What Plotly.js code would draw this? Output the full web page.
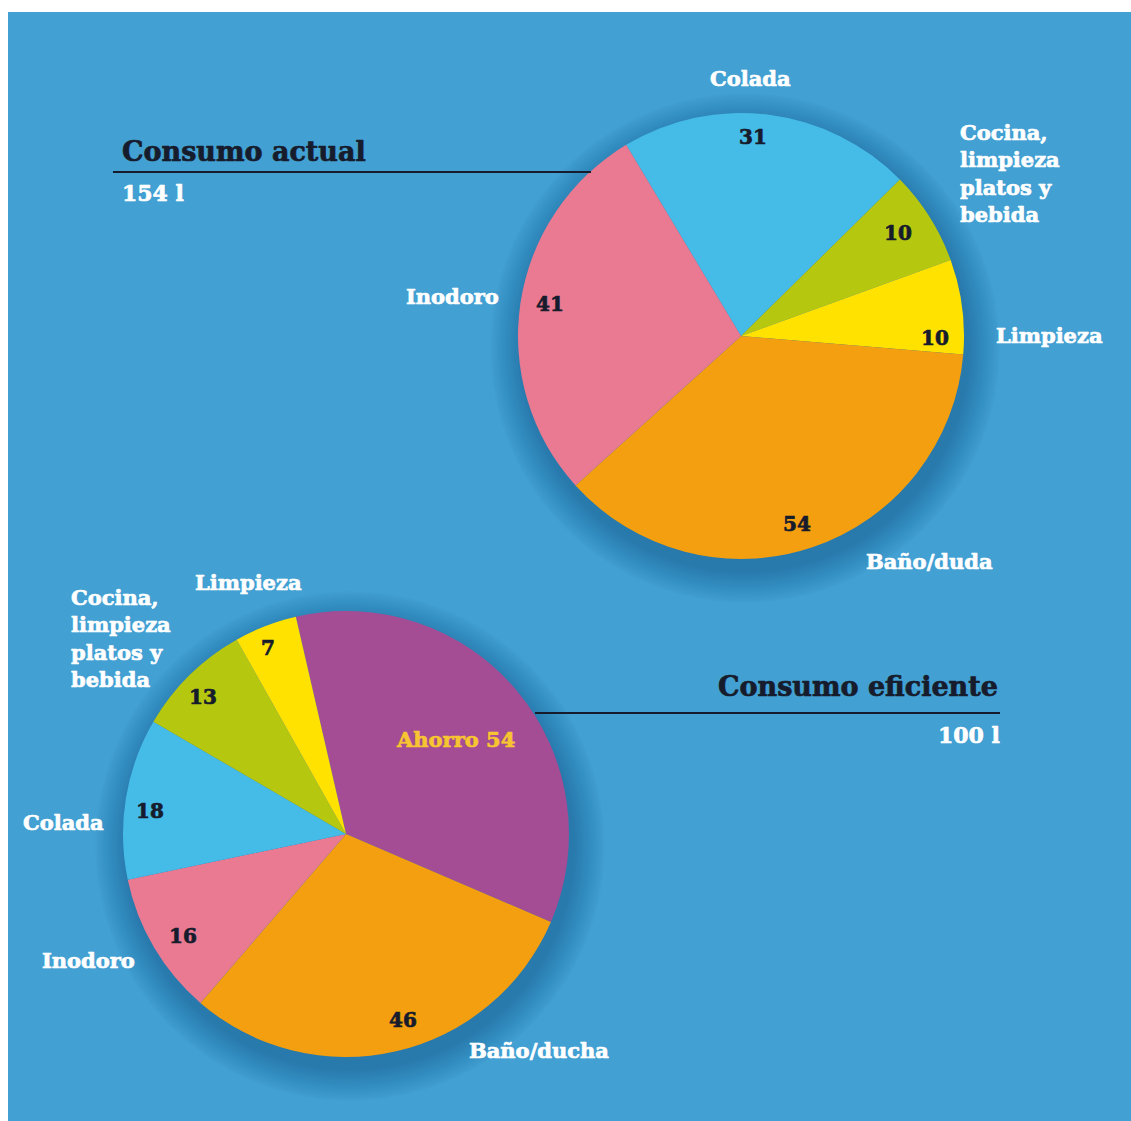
<!DOCTYPE html>
<html><head><meta charset="utf-8">
<script src="https://cdn.plot.ly/plotly-3.0.1.min.js"></script>
<style>html,body{margin:0;padding:0;background:#fff}#chart{width:1131px;height:1121px}</style>
</head><body><div id="chart"></div>
<script>
// ---- data ----
const actualLabels = ['Colada', 'Cocina,<br>limpieza<br>platos y<br>bebida', 'Limpieza', 'Baño/duda', 'Inodoro'];
const actualValues = [31, 10, 10, 54, 41];
const actualTitle = 'Consumo actual';
const actualTotal = '154 l';

const eficienteLabels = ['Ahorro', 'Baño/ducha', 'Inodoro', 'Colada', 'Cocina,<br>limpieza<br>platos y<br>bebida', 'Limpieza'];
const eficienteValues = [54, 46, 16, 18, 13, 7];
const eficienteTitle = 'Consumo eficiente';
const eficienteTotal = '100 l';

// ---- styles / layout ----
const W = 1131, H = 1121;
const px = x => x / W;
const py = y => 1 - y / H;
const BG = '#42A0D3';
const DARK = '#161c2c';
const FONT = 'DejaVu Serif';

const actualColors = ['#45BBE8', '#B6C70F', '#FFE200', '#F39F10', '#E97A92'];
const eficienteColors = ['#A44D94', '#F39F10', '#E97A92', '#45BBE8', '#B6C70F', '#FFE200'];

const topPie = {cx: 741, cy: 336, r: 223, rotation: -31};
const botPie = {cx: 346, cy: 834, r: 223, rotation: -13};

// label positions (pixels) per slice: value label and category label
const actualValuePos = [[753,137],[898,233],[935,338],[797,524],[550,304]];
const actualLabelPos = [[750,78,'center'],[958,173,'left'],[994,335,'left'],[864,561,'left'],[501,296,'right']];
const eficienteValuePos = [[455,739],[403,1020],[183,936],[150,811],[203,697],[268,648]];
const eficienteLabelPos = [null,[467,1050,'left'],[40,960,'left'],[21,822,'left'],[69,638,'left'],[193,582,'left']];

function dom(p) {
  return {x: [px(p.cx - p.r), px(p.cx + p.r)], y: [py(p.cy + p.r), py(p.cy - p.r)]};
}

const traces = [
  {type: 'pie', labels: actualLabels, values: actualValues, sort: false, direction: 'clockwise',
   rotation: topPie.rotation, domain: dom(topPie), textinfo: 'none', hoverinfo: 'skip',
   marker: {colors: actualColors, line: {width: 0}}, showlegend: false},
  {type: 'pie', labels: eficienteLabels, values: eficienteValues, sort: false, direction: 'clockwise',
   rotation: botPie.rotation, domain: dom(botPie), textinfo: 'none', hoverinfo: 'skip',
   marker: {colors: eficienteColors, line: {width: 0}}, showlegend: false}
];

const shapes = [
  {type: 'rect', xref: 'paper', yref: 'paper', x0: 0, x1: px(8), y0: 0, y1: 1, fillcolor: '#fff', line: {width: 0}, layer: 'below'},
  {type: 'rect', xref: 'paper', yref: 'paper', x0: 0, x1: 1, y0: py(12), y1: 1, fillcolor: '#fff', line: {width: 0}, layer: 'below'}
];
function shadow(p) {
  for (let i = 0; i < 18; i++) {
    const rr = p.r + 1 + i * 1.8;
    const cx = p.cx + 4, cy = p.cy + 12;
    shapes.push({type: 'circle', xref: 'paper', yref: 'paper',
      x0: px(cx - rr), x1: px(cx + rr), y0: py(cy + rr), y1: py(cy - rr),
      fillcolor: 'rgba(15,45,85,0.018)', line: {width: 0}, layer: 'below'});
  }
}
shadow(topPie); shadow(botPie);
shapes.push({type: 'line', xref: 'paper', yref: 'paper', x0: px(113), x1: px(591), y0: py(172), y1: py(172), line: {color: DARK, width: 2}});
shapes.push({type: 'line', xref: 'paper', yref: 'paper', x0: px(535), x1: px(1000), y0: py(713), y1: py(713), line: {color: DARK, width: 2}});

const annotations = [];
function ann(text, x, y, xanchor, color, size) {
  annotations.push({text: text, x: px(x), y: py(y), xref: 'paper', yref: 'paper',
    xanchor: xanchor, yanchor: 'middle', showarrow: false, align: xanchor === 'right' ? 'right' : 'left',
    font: {family: FONT, size: size, color: color, weight: 'bold'}});
}
actualValues.forEach((v, i) => ann(String(v), actualValuePos[i][0], actualValuePos[i][1], 'center', DARK, 20));
actualLabels.forEach((l, i) => ann(l, actualLabelPos[i][0], actualLabelPos[i][1], actualLabelPos[i][2], '#ffffff', 21));
eficienteValues.forEach((v, i) => {
  if (i === 0) ann(eficienteLabels[0] + ' ' + v, eficienteValuePos[0][0], eficienteValuePos[0][1], 'center', '#F7C531', 21);
  else ann(String(v), eficienteValuePos[i][0], eficienteValuePos[i][1], 'center', DARK, 20);
});
eficienteLabels.forEach((l, i) => {
  if (eficienteLabelPos[i]) ann(l, eficienteLabelPos[i][0], eficienteLabelPos[i][1], eficienteLabelPos[i][2], '#ffffff', 21);
});
ann(actualTitle, 120, 152, 'left', DARK, 27);
ann(actualTotal, 120, 193, 'left', '#ffffff', 22);
ann(eficienteTitle, 1000, 686, 'right', DARK, 27);
ann(eficienteTotal, 1002, 735, 'right', '#ffffff', 22);

const layout = {
  width: W, height: H, margin: {l: 0, r: 0, t: 0, b: 0},
  paper_bgcolor: BG, plot_bgcolor: BG, showlegend: false,
  shapes: shapes, annotations: annotations
};
Plotly.newPlot('chart', traces, layout, {displayModeBar: false, staticPlot: true}).then(() => {
  document.querySelectorAll('#chart .annotation-text').forEach(t => {
    const f = t.style.fill;
    t.style.stroke = f;
    t.style.strokeWidth = '0.7px';
    t.style.strokeLinejoin = 'round';
  });
});
</script></body></html>
